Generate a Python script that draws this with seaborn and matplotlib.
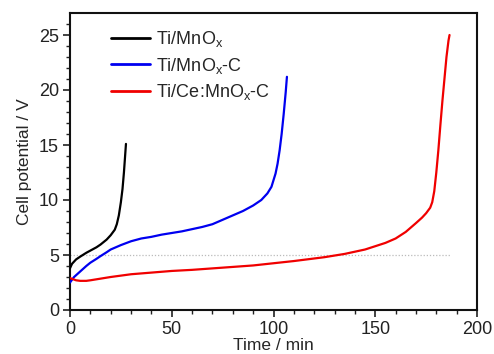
import numpy as np
import pandas as pd
import matplotlib
matplotlib.use("Agg")
import matplotlib.pyplot as plt
import seaborn as sns

# Data
t_black = [0, 1, 3, 5, 8, 10, 13, 15, 18, 20, 22, 23, 24, 25, 25.8, 26.5, 27, 27.5]
v_black = [3.8, 4.2, 4.6, 4.85, 5.2, 5.4, 5.7, 5.95, 6.4, 6.8, 7.3, 7.8, 8.6, 9.8, 11.0, 12.5, 13.8, 15.1]

t_blue = [0, 2, 5, 8, 10, 13, 15, 18, 20, 25, 30, 35, 40, 45, 50, 55, 60, 65, 70, 75, 80, 85,
          90, 94, 97, 99, 100, 101, 102, 103, 104, 105, 106, 106.6]
v_blue = [2.5, 3.0, 3.5, 4.0, 4.3, 4.65, 4.9, 5.25, 5.5, 5.9, 6.25, 6.5, 6.65, 6.85, 7.0, 7.15,
          7.35, 7.55, 7.8, 8.2, 8.6, 9.0, 9.5, 10.0, 10.6, 11.2, 11.8, 12.4, 13.3, 14.5, 16.0, 17.8, 19.8, 21.2]

t_red = [0, 3, 5, 8, 10, 15, 20, 30, 40, 50, 60, 75, 90, 100, 110, 125, 135, 145, 150, 155,
         160, 165, 170, 173, 175, 177, 178, 179, 180, 181, 182, 183, 184, 185, 186, 186.5]
v_red = [2.9, 2.7, 2.65, 2.65, 2.7, 2.85, 3.0, 3.25, 3.4, 3.55, 3.65, 3.85, 4.05, 4.25, 4.45,
         4.8, 5.1, 5.5, 5.8, 6.1, 6.5, 7.1, 7.9, 8.4, 8.8, 9.3, 9.8, 10.8, 12.5, 14.5, 16.8,
         19.0, 21.0, 23.0, 24.5, 25.0]

labels = ["Ti/MnO$_x$", "Ti/MnO$_x$-C", "Ti/Ce:MnO$_x$-C"]
colors = ["#000000", "#0000f0", "#f00000"]

ref_level = 5
ref_span = [0, 187]

sns.set_style("ticks")
plt.rcParams["font.family"] = ["Liberation Sans", "DejaVu Sans"]
plt.rcParams["mathtext.fontset"] = "custom"
plt.rcParams["mathtext.rm"] = "Liberation Sans"
plt.rcParams["mathtext.it"] = "Liberation Sans"
plt.rcParams["mathtext.sf"] = "Liberation Sans"

df = pd.concat([
    pd.DataFrame({"t": t_black, "v": v_black, "s": labels[0]}),
    pd.DataFrame({"t": t_blue, "v": v_blue, "s": labels[1]}),
    pd.DataFrame({"t": t_red, "v": v_red, "s": labels[2]}),
], ignore_index=True)

fig = plt.figure(figsize=(4.94, 3.54), dpi=100)
ax = fig.add_axes([70/494, 1 - 310/354, (477-70)/494, (310-13)/354])

ax.plot(ref_span, [ref_level, ref_level], color="#bbbbbb", lw=0.9, ls=(0, (1, 1.5)), zorder=1)

sns.lineplot(data=df, x="t", y="v", hue="s", palette=colors, sort=False,
             estimator=None, lw=1.6, ax=ax, zorder=3)

ax.set_xlim(0, 200)
ax.set_ylim(0, 27)
ax.set_xticks([0, 50, 100, 150, 200])
ax.set_yticks([0, 5, 10, 15, 20, 25])
ax.set_xticks(np.arange(0, 201, 10), minor=True)
ax.set_yticks(np.arange(0, 27, 1), minor=True)
ax.tick_params(axis="both", which="major", direction="out", length=5, width=1.2,
               labelsize=13, colors="#222222", pad=3)
ax.tick_params(axis="both", which="minor", direction="out", length=3, width=1.0, colors="#222222")
for sp in ax.spines.values():
    sp.set_linewidth(1.5)
    sp.set_color("#111111")

ax.set_xlabel("Time / min", fontsize=12.5, labelpad=0)
ax.set_ylabel("Cell potential / V", fontsize=12.5, labelpad=5)

leg = ax.legend(loc="upper left", bbox_to_anchor=(0.06, 1.0), frameon=False, fontsize=13,
                handlelength=2.2, handletextpad=0.3, labelspacing=0.35)
for line in leg.get_lines():
    line.set_linewidth(2)

fig.savefig("out.png", dpi=100)
